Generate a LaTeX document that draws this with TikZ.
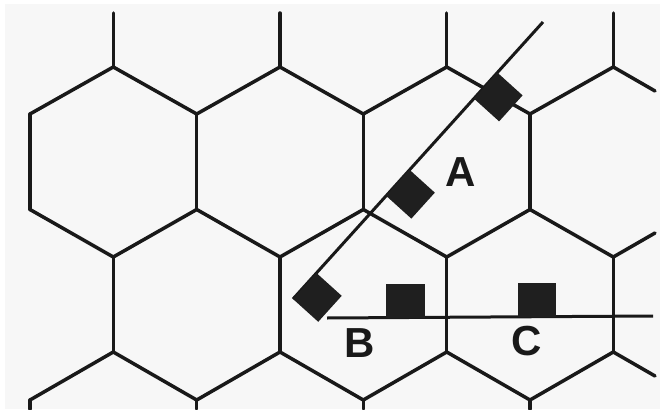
\documentclass[tikz,border=0pt]{standalone}
\usepackage{fontspec}
\setmainfont{Liberation Sans}
\usetikzlibrary{calc}
\begin{document}
\begin{tikzpicture}[x=1pt,y=-1pt,
  grid/.style={line width=3.5pt, line cap=round, line join=round, draw=black!90},
  ray/.style={line width=3pt, line cap=butt, draw=black!90},
  blockbox/.style={draw=none, fill=black!88, minimum width=35pt, minimum height=34pt, inner sep=0pt, outer sep=0pt},
  lbl/.style={font=\fontsize{42}{42}\selectfont\bfseries, inner sep=0pt, text=black!90}]
\useasboundingbox (0,0) rectangle (660,409);
\fill[white] (0,0) rectangle (660,409);
\fill[black!3] (5,4) rectangle (660,409);
% x levels
\def\Xa{30}\def\Xb{113.3}\def\Xc{196.7}\def\Xd{280}\def\Xe{363.3}\def\Xf{446.7}\def\Xg{530}\def\Xh{613.3}
% y levels
\def\Ya{67}\def\Yb{114}\def\Yc{209.5}\def\Yd{257}\def\Ye{352}\def\Yf{400}
% stems at top
\foreach \x in {\Xb,\Xd,\Xf,\Xh} \draw[grid] (\x,13) -- (\x,\Ya);
% top zigzag
\draw[grid] (\Xa,\Yb) -- (\Xb,\Ya) -- (\Xc,\Yb) -- (\Xd,\Ya) -- (\Xe,\Yb) -- (\Xf,\Ya) -- (\Xg,\Yb) -- (\Xh,\Ya) -- (655,91);
% row 1 walls
\foreach \x in {\Xa,\Xc,\Xe,\Xg} \draw[grid] (\x,\Yb) -- (\x,\Yc);
% middle zigzag
\draw[grid] (\Xa,\Yc) -- (\Xb,\Yd) -- (\Xc,\Yc) -- (\Xd,\Yd) -- (\Xe,\Yc) -- (\Xf,\Yd) -- (\Xg,\Yc) -- (\Xh,\Yd) -- (655,233);
% row 2 walls
\foreach \x in {\Xb,\Xd,\Xf,\Xh} \draw[grid] (\x,\Yd) -- (\x,\Ye);
% bottom zigzag
\draw[grid] (\Xa,\Yf) -- (\Xb,\Ye) -- (\Xc,\Yf) -- (\Xd,\Ye) -- (\Xe,\Yf) -- (\Xf,\Ye) -- (\Xg,\Yf) -- (\Xh,\Ye) -- (655,376);
% stems at bottom
\foreach \x in {\Xa,\Xc,\Xe,\Xg} \draw[grid] (\x,\Yf) -- (\x,409);
% slanted line with blocks
\coordinate (L0) at (293,299);
\coordinate (L1) at (543,22);
\draw[ray] (L0) -- (L1);
\node[blockbox, rotate=47.9, anchor=north west] (d1) at (L0) {};
\node[blockbox, rotate=47.9, anchor=north west] (d2) at ($(L0)!139pt!(L1)$) {};
\node[blockbox, rotate=47.9, anchor=north west] (d3) at ($(L0)!270pt!(L1)$) {};
% horizontal line with blocks
\coordinate (H0) at (327,318);
\coordinate (H1) at (653,316);
\draw[ray] (H0) -- (H1);
\node[blockbox, minimum width=39pt, anchor=south west] (sb) at (386,318) {};
\node[blockbox, minimum width=38pt, anchor=south west] (sc) at (518,316.5) {};
% labels
\node[lbl] (la) at (461,172) {A};
\node[lbl] (lb) at (360,343) {B};
\node[lbl] (lc) at (527,341) {C};
\end{tikzpicture}
\end{document}
